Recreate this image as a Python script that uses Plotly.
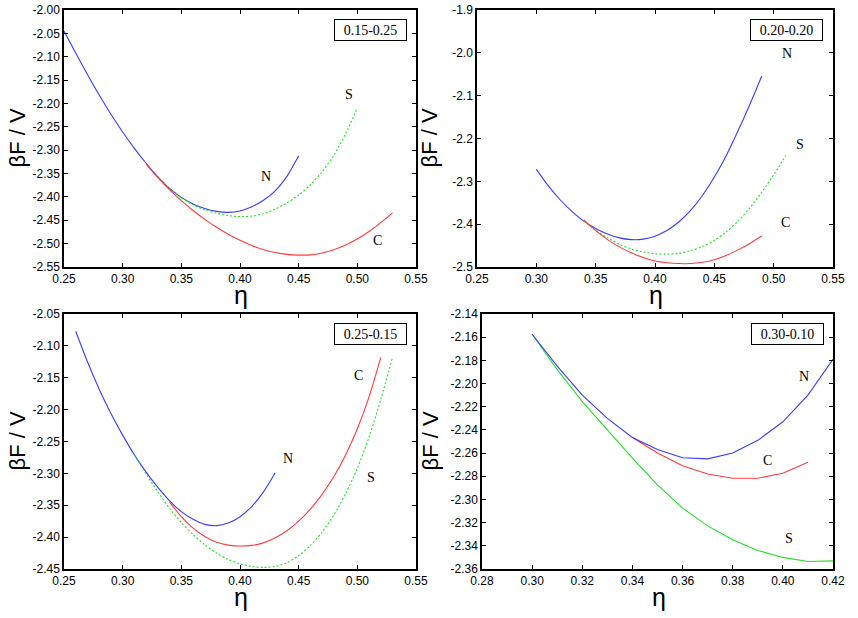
import plotly.graph_objects as go

# ---- data ----
panel_tags = ["0.15-0.25", "0.20-0.20", "0.25-0.15", "0.30-0.10"]

# panel 1 : 0.15-0.25
eta_n1 = [0.25, 0.26, 0.27, 0.28, 0.29, 0.30, 0.31, 0.32, 0.33, 0.34, 0.35,
          0.36, 0.37, 0.38, 0.39, 0.40, 0.41, 0.42, 0.43, 0.44, 0.45]
f_n1 = [-2.045, -2.092, -2.138, -2.182, -2.223, -2.261, -2.296, -2.328, -2.357, -2.382, -2.401,
        -2.415, -2.425, -2.431, -2.433, -2.430, -2.421, -2.407, -2.387, -2.356, -2.312]
eta_s1 = [0.33, 0.34, 0.35, 0.36, 0.37, 0.38, 0.39, 0.40, 0.41, 0.42, 0.43,
          0.44, 0.45, 0.46, 0.47, 0.48, 0.49, 0.50]
f_s1 = [-2.357, -2.382, -2.402, -2.417, -2.428, -2.435, -2.440, -2.442, -2.441, -2.436, -2.426,
        -2.413, -2.396, -2.374, -2.346, -2.311, -2.265, -2.21]
eta_c1 = [0.32, 0.33, 0.34, 0.35, 0.36, 0.37, 0.38, 0.39, 0.40, 0.41, 0.42,
          0.43, 0.44, 0.45, 0.46, 0.47, 0.48, 0.49, 0.50, 0.51, 0.52, 0.53]
f_c1 = [-2.330, -2.359, -2.385, -2.408, -2.429, -2.448, -2.465, -2.480, -2.493, -2.504, -2.513,
        -2.519, -2.523, -2.5245, -2.524, -2.520, -2.513, -2.503, -2.490, -2.474, -2.455, -2.434]

# panel 2 : 0.20-0.20
eta_n2 = [0.30, 0.31, 0.32, 0.33, 0.34, 0.35, 0.36, 0.37, 0.38, 0.39,
          0.40, 0.41, 0.42, 0.43, 0.44, 0.45, 0.46, 0.47, 0.48, 0.49]
f_n2 = [-2.272, -2.31, -2.343, -2.37, -2.393, -2.41, -2.423, -2.432, -2.436, -2.435,
        -2.428, -2.415, -2.395, -2.368, -2.333, -2.29, -2.24, -2.182, -2.12, -2.054]
eta_s2 = [0.34, 0.35, 0.36, 0.37, 0.38, 0.39, 0.40, 0.41, 0.42,
          0.43, 0.44, 0.45, 0.46, 0.47, 0.48, 0.49, 0.50, 0.51]
f_s2 = [-2.393, -2.414, -2.432, -2.447, -2.458, -2.465, -2.469, -2.47, -2.468,
        -2.462, -2.452, -2.438, -2.418, -2.393, -2.362, -2.325, -2.285, -2.24]
eta_c2 = [0.34, 0.35, 0.36, 0.37, 0.38, 0.39, 0.40, 0.41,
          0.42, 0.43, 0.44, 0.45, 0.46, 0.47, 0.48, 0.49]
f_c2 = [-2.39, -2.415, -2.436, -2.453, -2.467, -2.478, -2.486, -2.49,
        -2.492, -2.492, -2.489, -2.483, -2.473, -2.46, -2.445, -2.427]

# panel 3 : 0.25-0.15
eta_n3 = [0.26, 0.27, 0.28, 0.29, 0.30, 0.31, 0.32, 0.33, 0.34,
          0.35, 0.36, 0.37, 0.38, 0.39, 0.40, 0.41, 0.42, 0.43]
f_n3 = [-2.077, -2.125, -2.168, -2.206, -2.240, -2.271, -2.298, -2.322, -2.343,
        -2.360, -2.372, -2.380, -2.382, -2.378, -2.368, -2.352, -2.329, -2.299]
eta_s3 = [0.31, 0.32, 0.33, 0.34, 0.35, 0.36, 0.37, 0.38, 0.39, 0.40, 0.41, 0.42,
          0.43, 0.44, 0.45, 0.46, 0.47, 0.48, 0.49, 0.50, 0.51, 0.52, 0.53]
f_s3 = [-2.271, -2.301, -2.329, -2.355, -2.377, -2.396, -2.412, -2.425, -2.435, -2.442, -2.446, -2.4475,
        -2.446, -2.440, -2.429, -2.413, -2.392, -2.365, -2.332, -2.292, -2.243, -2.184, -2.118]
eta_c3 = [0.34, 0.35, 0.36, 0.37, 0.38, 0.39, 0.40, 0.41, 0.42, 0.43,
          0.44, 0.45, 0.46, 0.47, 0.48, 0.49, 0.50, 0.51, 0.52]
f_c3 = [-2.345, -2.368, -2.386, -2.399, -2.408, -2.4125, -2.414, -2.413, -2.409, -2.401,
        -2.390, -2.375, -2.356, -2.333, -2.305, -2.271, -2.230, -2.180, -2.118]

# panel 4 : 0.30-0.10
eta_n4 = [0.30, 0.31, 0.32, 0.33, 0.34, 0.35, 0.36, 0.37, 0.38, 0.39, 0.40, 0.41, 0.42]
f_n4 = [-2.1575, -2.185, -2.21, -2.23, -2.2466, -2.257, -2.264, -2.265, -2.26, -2.249, -2.233, -2.21, -2.179]
eta_c4 = [0.34, 0.35, 0.36, 0.37, 0.38, 0.39, 0.40, 0.41]
f_c4 = [-2.2466, -2.26, -2.271, -2.278, -2.2817, -2.2817, -2.2774, -2.268]
eta_s4 = [0.30, 0.31, 0.32, 0.33, 0.34, 0.35, 0.36, 0.37, 0.38, 0.39, 0.40, 0.41, 0.42]
f_s4 = [-2.1575, -2.188, -2.2156, -2.24, -2.2644, -2.2874, -2.3075, -2.3228, -2.3348, -2.344, -2.35, -2.3535, -2.353]

# axis ranges and tick values
x_ranges = [[0.25, 0.55], [0.25, 0.55], [0.25, 0.55], [0.28, 0.42]]
y_ranges = [[-2.55, -2.00], [-2.5, -1.9], [-2.45, -2.05], [-2.36, -2.14]]
x_ticks = [[0.25, 0.30, 0.35, 0.40, 0.45, 0.50, 0.55]] * 3 + [[0.28, 0.30, 0.32, 0.34, 0.36, 0.38, 0.40, 0.42]]
y_ticks = [
    [-2.55, -2.50, -2.45, -2.40, -2.35, -2.30, -2.25, -2.20, -2.15, -2.10, -2.05, -2.00],
    [-2.5, -2.4, -2.3, -2.2, -2.1, -2.0, -1.9],
    [-2.45, -2.40, -2.35, -2.30, -2.25, -2.20, -2.15, -2.10, -2.05],
    [-2.36, -2.34, -2.32, -2.30, -2.28, -2.26, -2.24, -2.22, -2.20, -2.18, -2.16, -2.14],
]
y_fmt = ["%.2f", "%.1f", "%.2f", "%.2f"]

# curve labels (letter, eta, value)
labels = [
    [("N", 0.4222, -2.357), ("S", 0.4929, -2.18), ("C", 0.5168, -2.494)],
    [("N", 0.5112, -2.0004), ("S", 0.522, -2.213), ("C", 0.5096, -2.395)],
    [("N", 0.4409, -2.276), ("C", 0.5006, -2.147), ("S", 0.5116, -2.307)],
    [("N", 0.4084, -2.1935), ("C", 0.3937, -2.2668), ("S", 0.4025, -2.334)],
]

BLUE = "#3a3aff"
RED = "#ff3c3c"
GREEN = "#22e022"

W, H = 858, 618
# plot areas in pixels: left, right, top, bottom
boxes = [(64, 416, 10, 267), (477, 833, 10, 267), (64, 416, 314, 569), (482, 833, 314, 569)]
ylab_x = [17, 429, 17, 430]

fig = go.Figure()

series = [
    [(eta_n1, f_n1, BLUE, "solid"), (eta_s1, f_s1, GREEN, "2px,2px"), (eta_c1, f_c1, RED, "solid")],
    [(eta_n2, f_n2, BLUE, "solid"), (eta_s2, f_s2, GREEN, "2px,2px"), (eta_c2, f_c2, RED, "solid")],
    [(eta_n3, f_n3, BLUE, "solid"), (eta_s3, f_s3, GREEN, "2px,2px"), (eta_c3, f_c3, RED, "solid")],
    [(eta_s4, f_s4, GREEN, "solid"), (eta_c4, f_c4, RED, "solid"), (eta_n4, f_n4, BLUE, "solid")],
]

sans = "Liberation Sans, Arial, sans-serif"
serif = "Liberation Serif, Times New Roman, serif"
tick_font = dict(family=sans, size=12, color="black")

for i in range(4):
    n = "" if i == 0 else str(i + 1)
    l, r, t, b = boxes[i]
    for xs, ys, col, dash in series[i]:
        fig.add_trace(go.Scatter(
            x=xs, y=ys, mode="lines", xaxis="x" + n, yaxis="y" + n,
            line=dict(color=col, width=1.1, dash=dash,
                      shape="linear" if i == 3 else "spline", smoothing=0.8),
            showlegend=False, hoverinfo="skip"))

    common = dict(showline=True, linecolor="black", linewidth=1.5, mirror="ticks",
                  ticks="inside", ticklen=4, tickcolor="black", tickwidth=1,
                  showgrid=False, zeroline=False, tickfont=tick_font, automargin=False)
    fig.update_layout({
        "xaxis" + n: dict(common, domain=[l / W, r / W], range=x_ranges[i],
                          anchor="y" + n, tickvals=x_ticks[i],
                          ticktext=["%.2f" % v for v in x_ticks[i]]),
        "yaxis" + n: dict(common, domain=[1 - b / H, 1 - t / H], range=y_ranges[i],
                          anchor="x" + n, tickvals=y_ticks[i],
                          ticktext=[y_fmt[i] % v for v in y_ticks[i]]),
    })

    # tag box
    fig.add_annotation(
        xref="x" + n + " domain", yref="y" + n + " domain",
        x=0.87, y=0.922, xanchor="center", yanchor="middle",
        text=panel_tags[i], showarrow=False,
        font=dict(family=serif, size=14, color="black"),
        bordercolor="black", borderwidth=1, bgcolor="white",
        width=69, height=18, borderpad=1)

    for txt, lx, ly in labels[i]:
        fig.add_annotation(xref="x" + n, yref="y" + n, x=lx, y=ly, text=txt,
                           xanchor="center", yanchor="middle", showarrow=False,
                           font=dict(family=serif, size=14, color="black"))

    # axis titles
    fig.add_annotation(xref="paper", yref="paper", x=((l + r) / 2 + 1) / W, y=1 - (b + 28) / H,
                       xanchor="center", yanchor="middle", text="η", showarrow=False,
                       font=dict(family=sans, size=25, color="black"))
    fig.add_annotation(xref="paper", yref="paper", x=ylab_x[i] / W, y=1 - (t + b) / 2 / H,
                       xanchor="center", yanchor="middle", text="βF / V", textangle=-90,
                       showarrow=False, font=dict(family=sans, size=22, color="black"))

fig.update_layout(
    template="none",
    width=W, height=H,
    margin=dict(l=0, r=0, t=0, b=0, pad=0),
    paper_bgcolor="white", plot_bgcolor="white",
)

fig.write_html("out.html", config={"displayModeBar": False},
               post_script="document.body.style.margin='0px';")
